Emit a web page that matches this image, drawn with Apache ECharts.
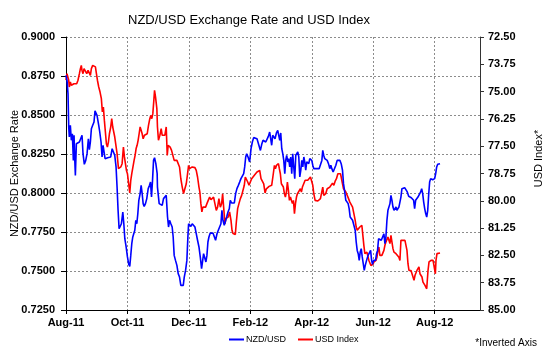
<!DOCTYPE html>
<html>
<head>
<meta charset="utf-8">
<script src="https://cdn.jsdelivr.net/npm/echarts@6/dist/echarts.min.js"></script>
<style>html,body{margin:0;padding:0;background:#fff}#c{width:550px;height:355px}</style>
</head>
<body>
<div id="c"></div>
<script>
// x values are days since 1 Aug 2011
const xTickDays = [0, 61, 122, 183, 244, 305, 366];
const xTickLabels = ['Aug-11', 'Oct-11', 'Dec-11', 'Feb-12', 'Apr-12', 'Jun-12', 'Aug-12'];
const seriesNames = ['NZD/USD', 'USD Index'];

const nzdUsd = [[0,0.8754],[1.0,0.8722],[2.0,0.8637],[2.7,0.8423],[3.3,0.8359],[4.3,0.8434],[5.3,0.8338],[6.3,0.8380],[7.3,0.8209],[8.0,0.8370],[8.6,0.8231],[9.3,0.8113],[10.3,0.8316],[11.9,0.8320],[13.3,0.8327],[14.6,0.8338],[15.9,0.8370],[16.9,0.8252],[18.2,0.8184],[19.6,0.8209],[20.9,0.8252],[22.2,0.8348],[23.2,0.8278],[24.2,0.8327],[25.2,0.8412],[26.5,0.8434],[27.8,0.8455],[28.8,0.8526],[29.8,0.8534],[30.8,0.8498],[32.5,0.8434],[33.5,0.8391],[34.8,0.8327],[35.8,0.8231],[36.8,0.8306],[37.8,0.8295],[38.8,0.8220],[40.1,0.8231],[41.4,0.8226],[42.8,0.8231],[44.4,0.8231],[45.8,0.8284],[47.1,0.8263],[48.4,0.8241],[49.7,0.8167],[50.7,0.8038],[51.7,0.7889],[52.7,0.7771],[54.0,0.7782],[55.0,0.7803],[56.4,0.7878],[57.4,0.7803],[58.4,0.7707],[59.7,0.7654],[61.0,0.7590],[62.3,0.7543],[63.3,0.7530],[64.3,0.7600],[65.3,0.7675],[66.3,0.7718],[67.3,0.7707],[68.3,0.7761],[69.3,0.7825],[70.3,0.7803],[71.3,0.7867],[72.3,0.7953],[73.6,0.7996],[74.6,0.8049],[75.6,0.7996],[76.6,0.7932],[77.6,0.7914],[78.9,0.7932],[80.2,0.7964],[81.6,0.8028],[82.9,0.8049],[83.9,0.8070],[84.9,0.7974],[85.9,0.8081],[86.9,0.8209],[87.9,0.8226],[89.2,0.8188],[90.5,0.8124],[90.8,0.8038],[92.5,0.7932],[94.2,0.7942],[95.5,0.7921],[96.8,0.7964],[98.1,0.7953],[99.5,0.7985],[100.8,0.7846],[101.8,0.7782],[102.8,0.7825],[104.1,0.7803],[105.4,0.7782],[106.4,0.7718],[107.4,0.7600],[108.7,0.7568],[110.1,0.7536],[111.4,0.7483],[112.7,0.7461],[114.0,0.7408],[115.4,0.7404],[116.4,0.7408],[117.4,0.7461],[118.7,0.7504],[120.0,0.7568],[121.0,0.7718],[121.7,0.7803],[122.7,0.7793],[124.0,0.7786],[125.3,0.7803],[126.6,0.7799],[128.0,0.7782],[129.3,0.7739],[130.6,0.7697],[132.0,0.7654],[133.3,0.7590],[134.6,0.7515],[135.6,0.7525],[136.6,0.7611],[137.6,0.7600],[138.9,0.7558],[139.9,0.7600],[140.9,0.7686],[141.9,0.7718],[143.2,0.7743],[144.5,0.7750],[145.9,0.7743],[147.2,0.7750],[148.5,0.7697],[149.9,0.7739],[151.2,0.7761],[152.5,0.7782],[153.8,0.7803],[154.8,0.7889],[155.8,0.7825],[157.1,0.7793],[158.1,0.7803],[159.5,0.7846],[160.8,0.7878],[162.1,0.7899],[163.1,0.7953],[164.4,0.7936],[165.8,0.7942],[167.1,0.7936],[168.4,0.7996],[169.7,0.8028],[171.1,0.8049],[172.4,0.8070],[173.7,0.8092],[175.0,0.8103],[176.4,0.8124],[177.4,0.8167],[178.4,0.8231],[179.4,0.8252],[180.7,0.8231],[182.3,0.8199],[183.7,0.8284],[185.0,0.8327],[186.3,0.8355],[188.0,0.8359],[189.6,0.8348],[191.3,0.8338],[193.0,0.8273],[194.3,0.8312],[195.6,0.8338],[196.9,0.8338],[198.3,0.8327],[199.6,0.8338],[200.9,0.8363],[202.2,0.8391],[203.2,0.8348],[204.2,0.8306],[205.2,0.8370],[206.2,0.8380],[207.5,0.8348],[208.9,0.8385],[210.2,0.8402],[211.2,0.8391],[212.2,0.8338],[213.2,0.8385],[214.2,0.8284],[215.2,0.8252],[216.2,0.8209],[217.2,0.8124],[218.1,0.8209],[219.1,0.8241],[220.1,0.8199],[221.1,0.8220],[222.1,0.8167],[223.1,0.8231],[224.1,0.8124],[225.1,0.8252],[226.1,0.8167],[227.1,0.8092],[228.1,0.8241],[229.1,0.8252],[230.1,0.8263],[231.1,0.8231],[232.1,0.8103],[233.1,0.8146],[234.1,0.8209],[235.1,0.8167],[236.1,0.8231],[237.0,0.8199],[238.0,0.8146],[239.0,0.8199],[240.0,0.8209],[241.0,0.8188],[242.0,0.8220],[243.0,0.8231],[244.0,0.8209],[245.0,0.8178],[246.0,0.8156],[247.3,0.8156],[248.6,0.8156],[250.0,0.8149],[251.3,0.8156],[252.6,0.8167],[254.0,0.8209],[254.9,0.8273],[255.9,0.8241],[256.9,0.8220],[257.9,0.8209],[259.3,0.8209],[260.6,0.8188],[261.9,0.8156],[262.9,0.8178],[263.9,0.8156],[265.2,0.8135],[266.6,0.8146],[267.9,0.8178],[269.2,0.8209],[270.5,0.8209],[271.9,0.8209],[273.2,0.8188],[274.5,0.8146],[275.5,0.8060],[276.5,0.8017],[277.8,0.7953],[279.2,0.7953],[280.1,0.7932],[281.1,0.7900],[282.1,0.7846],[283.1,0.7857],[284.5,0.7825],[285.8,0.7793],[287.1,0.7761],[288.1,0.7686],[289.1,0.7632],[290.1,0.7611],[291.1,0.7568],[292.1,0.7622],[293.1,0.7643],[294.1,0.7590],[295.1,0.7547],[296.1,0.7504],[297.1,0.7536],[298.4,0.7568],[299.4,0.7590],[300.4,0.7607],[301.4,0.7611],[302.4,0.7632],[303.4,0.7568],[304.3,0.7543],[305.3,0.7568],[306.3,0.7579],[307.3,0.7568],[308.3,0.7611],[309.3,0.7632],[310.3,0.7707],[311.6,0.7697],[313.0,0.7697],[314.3,0.7697],[315.6,0.7739],[316.6,0.7675],[317.6,0.7718],[318.6,0.7825],[319.6,0.7889],[320.6,0.7899],[321.6,0.7932],[322.6,0.7985],[323.6,0.7953],[324.6,0.7910],[325.6,0.7889],[326.6,0.7878],[327.6,0.7910],[328.5,0.7889],[329.5,0.7878],[330.5,0.7910],[331.5,0.7910],[332.5,0.7974],[333.5,0.8028],[334.8,0.8038],[336.2,0.8034],[337.5,0.8028],[338.8,0.8007],[340.2,0.7979],[341.5,0.7974],[342.8,0.7970],[344.1,0.7964],[345.1,0.7953],[346.1,0.7900],[347.1,0.7953],[348.1,0.7964],[349.4,0.7974],[350.8,0.7985],[352.1,0.8007],[353.1,0.8028],[354.1,0.7996],[355.1,0.7942],[356.1,0.7900],[357.1,0.7868],[358.1,0.7846],[359.1,0.7889],[360.0,0.7985],[361.0,0.8070],[362.0,0.8092],[363.0,0.8092],[364.0,0.8085],[365.0,0.8081],[366.0,0.8092],[367.0,0.8124],[368.0,0.8167],[369.0,0.8184],[370.0,0.8188],[371.3,0.8188]];

const usdIndex = [[0,74.48],[1.0,74.18],[2.0,74.10],[2.7,74.48],[3.3,74.79],[4.3,74.56],[5.3,74.71],[6.6,74.71],[7.9,74.64],[9.3,74.67],[10.6,74.64],[11.9,74.48],[13.3,74.18],[14.3,73.95],[15.2,73.80],[15.9,74.03],[16.9,74.18],[17.9,73.95],[19.2,74.03],[20.6,74.18],[21.9,74.03],[23.2,74.10],[24.2,74.26],[25.2,73.95],[26.5,73.80],[27.8,73.75],[29.2,73.87],[30.2,74.18],[31.2,74.48],[32.5,74.79],[33.8,75.02],[35.1,75.32],[36.1,75.93],[37.1,75.71],[38.1,76.32],[39.1,76.85],[40.1,77.39],[41.1,77.54],[42.1,77.31],[43.1,76.93],[44.4,76.62],[45.4,76.24],[46.4,76.62],[47.4,76.85],[48.4,77.08],[49.4,77.00],[50.7,77.84],[52.1,78.53],[53.0,78.45],[54.4,78.45],[55.7,78.30],[57.0,77.54],[58.0,77.99],[59.0,78.30],[60.0,78.61],[61.0,78.76],[62.0,79.14],[63.3,79.64],[64.3,79.06],[65.3,78.76],[66.6,78.68],[67.6,78.15],[68.6,77.92],[69.6,77.61],[70.6,77.46],[71.6,77.23],[72.6,76.93],[73.6,76.62],[74.6,76.77],[75.6,76.93],[76.6,77.16],[77.9,77.00],[79.2,77.08],[80.6,76.93],[81.9,76.55],[83.2,76.24],[84.2,76.09],[85.2,76.24],[86.2,76.01],[87.2,75.40],[87.9,74.94],[88.9,75.25],[90.2,75.78],[90.8,76.62],[91.8,77.23],[93.2,77.00],[94.5,76.70],[95.5,77.00],[96.8,77.00],[98.1,77.00],[99.5,76.62],[100.5,77.92],[101.4,77.46],[102.4,77.54],[103.4,77.54],[104.8,77.69],[106.1,77.92],[107.4,78.15],[108.7,78.12],[110.1,78.15],[111.4,78.22],[112.7,78.45],[114.0,78.99],[115.4,79.37],[116.7,79.67],[118.0,79.45],[119.4,79.22],[120.7,78.76],[121.7,78.38],[122.7,78.53],[124.0,78.58],[125.3,78.45],[126.6,78.53],[128.0,78.48],[129.3,78.61],[130.6,78.91],[132.0,79.37],[132.9,79.60],[133.9,80.13],[134.9,80.51],[135.9,80.29],[137.3,80.25],[138.6,80.29],[139.9,80.13],[141.2,79.98],[142.6,79.83],[143.9,79.95],[145.2,79.98],[146.5,79.83],[147.9,79.86],[149.2,80.44],[150.5,80.29],[151.8,79.90],[153.2,80.29],[154.5,80.13],[155.5,79.68],[156.5,80.29],[157.8,81.05],[158.8,80.82],[159.8,80.90],[161.1,80.74],[162.4,80.51],[163.8,80.90],[164.8,81.35],[165.8,81.50],[167.1,81.50],[168.1,81.54],[169.1,80.97],[170.4,80.36],[171.7,80.13],[173.1,79.90],[174.4,79.75],[175.7,79.68],[177.0,79.29],[178.0,78.91],[179.0,78.83],[180.4,79.14],[181.7,79.29],[183.0,79.14],[184.3,78.99],[185.7,78.91],[187.0,78.83],[188.3,78.83],[189.6,78.68],[191.0,78.61],[192.3,78.61],[193.6,78.99],[194.9,78.91],[196.3,79.22],[197.6,79.64],[198.9,79.45],[200.2,79.37],[201.6,79.34],[202.9,79.37],[204.2,79.29],[205.6,78.83],[206.9,78.38],[207.9,78.53],[208.9,78.38],[209.9,78.45],[210.9,78.30],[211.8,78.53],[212.8,78.76],[213.8,79.22],[214.8,79.29],[215.8,79.37],[216.8,79.67],[217.8,79.83],[218.8,79.60],[219.8,79.14],[220.8,79.52],[221.8,79.98],[222.8,79.83],[223.8,79.98],[224.8,80.13],[225.8,79.98],[226.8,80.59],[227.8,80.13],[228.8,79.83],[229.8,79.67],[230.7,79.60],[231.7,79.67],[232.7,79.45],[233.7,79.60],[234.7,79.37],[236.0,79.22],[237.4,79.06],[238.7,78.99],[240.0,79.06],[241.4,78.99],[242.7,78.91],[244.0,78.83],[245.0,79.29],[246.0,79.67],[247.3,79.98],[248.6,80.06],[250.0,80.01],[251.3,79.98],[252.6,79.90],[254.0,79.83],[254.9,79.37],[255.9,79.75],[256.9,79.67],[257.9,79.67],[259.3,79.45],[260.6,79.52],[261.9,79.37],[263.2,79.37],[264.6,79.19],[265.9,79.29],[267.2,79.10],[268.5,78.99],[269.9,78.76],[271.2,78.73],[272.5,78.76],[273.2,78.91],[274.5,79.22],[275.5,79.45],[276.5,79.52],[277.8,79.60],[279.2,79.67],[280.5,79.90],[281.8,80.06],[283.1,80.13],[284.5,80.29],[285.8,80.59],[287.1,80.90],[288.1,81.20],[289.1,81.35],[290.4,81.28],[291.7,81.20],[292.7,81.12],[293.7,81.12],[294.7,81.20],[295.7,82.04],[296.7,82.42],[297.7,82.42],[298.7,82.35],[299.7,82.42],[300.7,82.73],[301.7,82.80],[302.7,82.96],[303.7,83.03],[304.7,82.91],[305.7,82.80],[306.7,82.80],[307.7,82.73],[308.7,82.58],[309.6,82.27],[310.6,82.12],[311.6,82.50],[312.6,82.50],[313.6,82.50],[314.6,82.42],[315.6,82.27],[316.6,82.04],[317.6,81.89],[318.6,81.81],[319.6,81.66],[320.6,81.81],[321.6,81.96],[322.6,81.58],[323.6,81.89],[324.6,82.19],[325.6,82.35],[326.6,82.27],[327.6,82.42],[328.5,82.35],[329.5,82.42],[330.5,82.58],[331.5,82.73],[332.5,81.81],[333.5,81.73],[334.5,81.81],[335.5,81.89],[336.5,81.81],[337.5,81.81],[338.5,82.27],[339.5,82.88],[340.5,83.19],[341.5,83.11],[342.5,83.19],[343.5,83.34],[344.5,83.41],[345.5,83.64],[346.5,83.41],[347.4,83.34],[348.4,83.19],[349.4,83.11],[350.4,83.03],[351.4,83.34],[352.4,83.41],[353.4,83.49],[354.4,83.72],[355.4,83.77],[356.4,83.87],[357.4,83.95],[358.1,84.03],[358.7,83.64],[359.4,83.19],[360.4,82.80],[361.4,82.73],[362.4,82.73],[363.4,82.70],[364.4,82.73],[365.3,82.80],[366.0,82.65],[366.7,83.34],[367.3,82.73],[368.3,82.42],[369.7,82.39],[371.3,82.39]];

const FONT = 'Liberation Sans, Arial, sans-serif';
const chart = echarts.init(document.getElementById('c'));
const dotted = { color: '#8c8c8c', type: [2, 2], width: 1 };

chart.setOption({
  animation: false,
  backgroundColor: '#fff',
  title: {
    text: 'NZD/USD Exchange Rate and USD Index',
    left: 123, top: 9,
    textStyle: { fontFamily: FONT, fontSize: 13, fontWeight: 'normal', color: '#000' }
  },
  legend: {
    bottom: 6, left: 224,
    itemWidth: 15, itemHeight: 2, itemGap: 12,
    icon: 'rect',
    textStyle: { fontFamily: FONT, fontSize: 9, color: '#000', padding: [0, 0, 0, -3] },
    data: seriesNames
  },
  graphic: [{
    type: 'text', right: 13, bottom: 7,
    style: { text: '*Inverted Axis', fontFamily: FONT, fontSize: 10, fill: '#000' }
  }],
  grid: { left: 66, right: 70, top: 37, bottom: 45, containLabel: false, outerBoundsMode: 'none' },
  xAxis: {
    type: 'value', min: 0, max: 411, interval: 61,
    axisLine: { lineStyle: { color: '#000', width: 1 } },
    axisTick: { show: true, length: 4, lineStyle: { color: '#000' } },
    splitLine: { show: true, lineStyle: dotted },
    axisLabel: {
      fontFamily: FONT, fontSize: 11, fontWeight: 'bold', color: '#000', margin: 7,
      showMaxLabel: false,
      formatter: v => { const i = xTickDays.indexOf(Math.round(v)); return i >= 0 ? xTickLabels[i] : ''; }
    }
  },
  yAxis: [{
    type: 'value', min: 0.725, max: 0.9, interval: 0.025, position: 'left',
    name: 'NZD/USD Exchange Rate', nameLocation: 'middle', nameRotate: 90, nameGap: 46,
    nameMoveOverlap: false,
    nameTextStyle: { fontFamily: FONT, fontSize: 11, color: '#000' },
    axisLine: { show: true, lineStyle: { color: '#000', width: 1 } },
    axisTick: { show: true, length: 5, lineStyle: { color: '#000' } },
    splitLine: { show: true, lineStyle: dotted },
    axisLabel: { fontFamily: FONT, fontSize: 11, fontWeight: 'bold', color: '#000', margin: 11,
      formatter: v => v.toFixed(4) }
  }, {
    type: 'value', min: 72.5, max: 85, interval: 1.25, inverse: true, position: 'right',
    name: 'USD Index*', nameLocation: 'middle', nameRotate: 90, nameGap: 53,
    nameMoveOverlap: false,
    nameTextStyle: { fontFamily: FONT, fontSize: 11, color: '#000', padding: [0, 0, 0, 30] },
    axisLine: { show: true, lineStyle: { color: '#333', width: 1 } },
    axisTick: { show: true, length: 4, lineStyle: { color: '#333' } },
    splitLine: { show: false },
    axisLabel: { fontFamily: FONT, fontSize: 11, fontWeight: 'bold', color: '#000', margin: 8,
      formatter: v => v.toFixed(2) }
  }],
  series: [{
    name: seriesNames[0], type: 'line', yAxisIndex: 0, data: nzdUsd,
    showSymbol: false, symbol: 'none', color: '#0000ff',
    lineStyle: { color: '#0000ff', width: 1.6 }, z: 3
  }, {
    name: seriesNames[1], type: 'line', yAxisIndex: 1, data: usdIndex,
    showSymbol: false, symbol: 'none', color: '#ff0000',
    lineStyle: { color: '#ff0000', width: 1.6 }, z: 2
  }]
});
</script>
</body>
</html>
